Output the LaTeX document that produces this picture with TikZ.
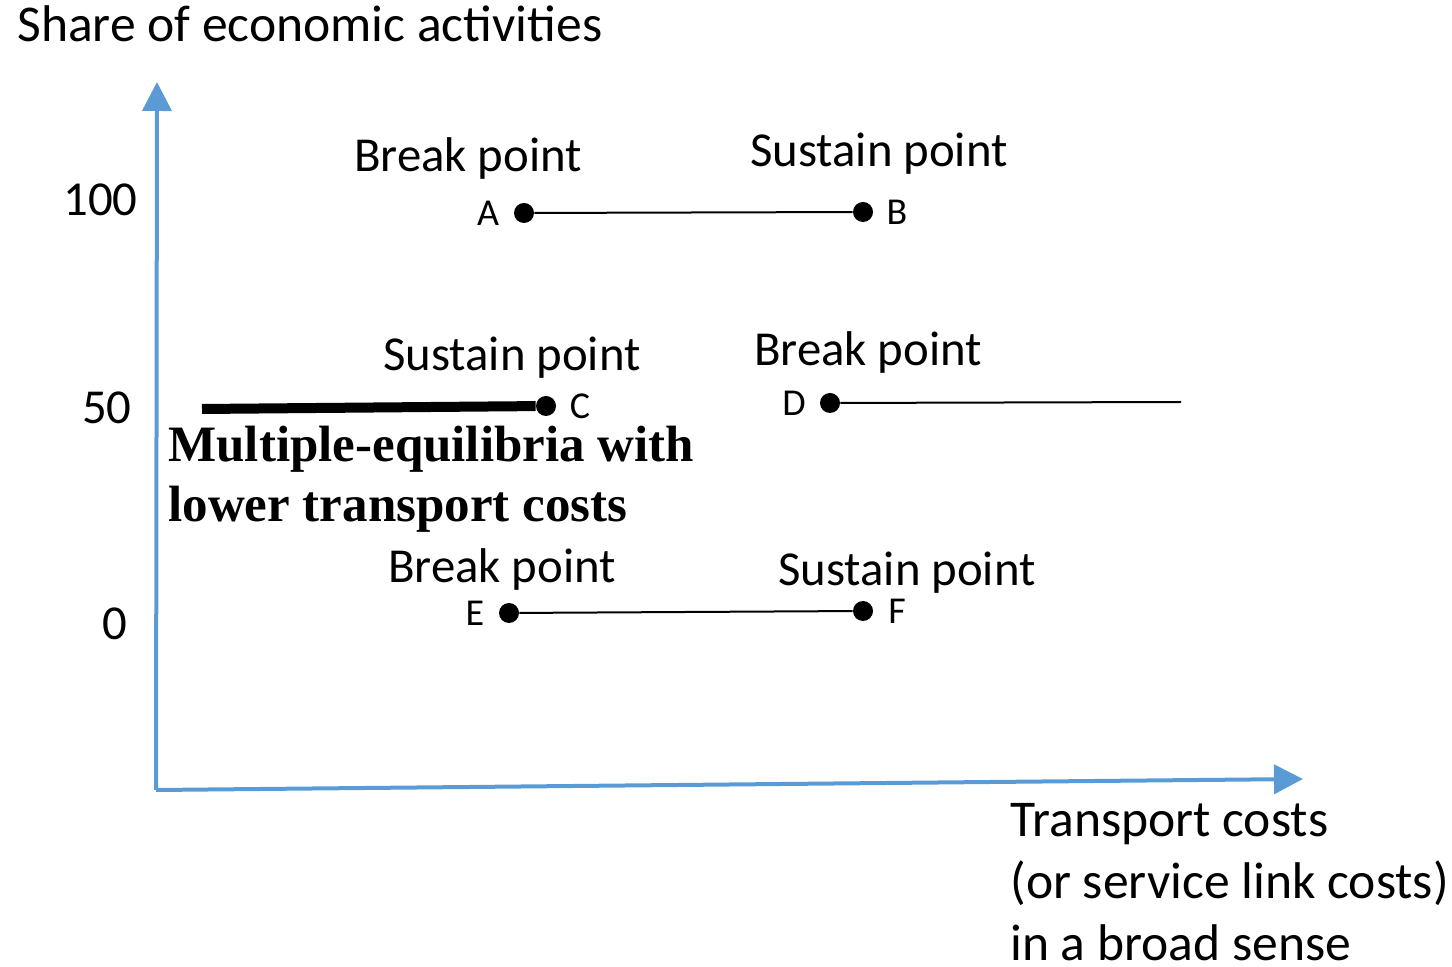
\documentclass[tikz,border=0pt]{standalone}
\usepackage{fontspec}
\setmainfont{Carlito}
\newfontfamily\serifbold{Liberation Serif}
\usepackage{tikz}
\usetikzlibrary{arrows.meta, positioning}

\definecolor{axisblue}{HTML}{5B9BD5}

\begin{document}
\begin{tikzpicture}[
            x=0.5pt, y=-0.5pt,
            axis/.style={-{Triangle[length=14.5pt, width=14.5pt]}, axisblue, line width=2pt},
            dot/.style={circle, fill=black, inner sep=0pt, minimum size=10pt},
            seg/.style={line width=1pt},
            big/.style={inner sep=0pt, font=\fontsize{24.4}{30}\selectfont},
            title/.style={inner sep=0pt, font=\fontsize{25.8}{31}\selectfont},
            ptlbl/.style={inner sep=0pt, font=\fontsize{19}{22}\selectfont},
            note/.style={inner sep=0pt, font=\serifbold\bfseries\fontsize{25.5}{30}\selectfont}]

        \useasboundingbox (0,0) rectangle (1452,967);

        % axes
        \coordinate (O) at (156,790);
        \coordinate (ytip) at (157,82);
        \coordinate (xtip) at (1303,779);
        \draw[axis] (O) -- (ytip);
        \draw[axis] (O) -- (xtip);

        \node[title, anchor=base west] (ytitle) at (17,42) {Share of economic activities};
        \node[big, anchor=base east] (y100) at (138,216) {100};
        \node[big, anchor=base east] (y50) at (132,424) {50};
        \node[big, anchor=base east] (y0) at (128,640) {0};

        \node[title, anchor=base west, align=left] (xtitle) at (1010,960)
        {Transport costs\\(or service link costs)\\in a broad sense};

        % top row
        \node[dot] (A) at (524,213) {};
        \node[dot] (B) at (863,212) {};
        \draw[seg] (A) -- (B);
        \node[ptlbl, left=18pt of A.center, anchor=center] (lA) {A};
        \node[ptlbl, right=17pt of B.center, anchor=center] (lB) {B};
        \node[big, anchor=base] (brA) at (468,172) {Break point};
        \node[big, anchor=base] (suB) at (879,167) {Sustain point};

        % middle row
        \node[dot] (C) at (546,406) {};
        \coordinate (Cstart) at (202,409);
        \draw[line width=5pt] (Cstart) -- (C);
        \node[ptlbl, right=17pt of C.center, anchor=center] (lC) {C};
        \node[dot] (D) at (830,403) {};
        \coordinate (Dend) at (1181,402);
        \draw[seg] (D) -- (Dend);
        \node[ptlbl, left=18pt of D.center, anchor=center] (lD) {D};
        \node[big, anchor=base] (suC) at (512,371) {Sustain point};
        \node[big, anchor=base] (brD) at (868,366) {Break point};

        \node[note, anchor=base west, align=left] (multi) at (168,522)
        {Multiple-equilibria with\\lower transport costs};

        % bottom row
        \node[dot] (E) at (509,613) {};
        \node[dot] (F) at (863,611) {};
        \draw[seg] (E) -- (F);
        \node[ptlbl, left=17pt of E.center, anchor=center] (lE) {E};
        \node[ptlbl, right=17pt of F.center, anchor=center] (lF) {F};
        \node[big, anchor=base] (brE) at (502,583) {Break point};
        \node[big, anchor=base] (suF) at (907,586) {Sustain point};
    \end{tikzpicture}
\end{document}
